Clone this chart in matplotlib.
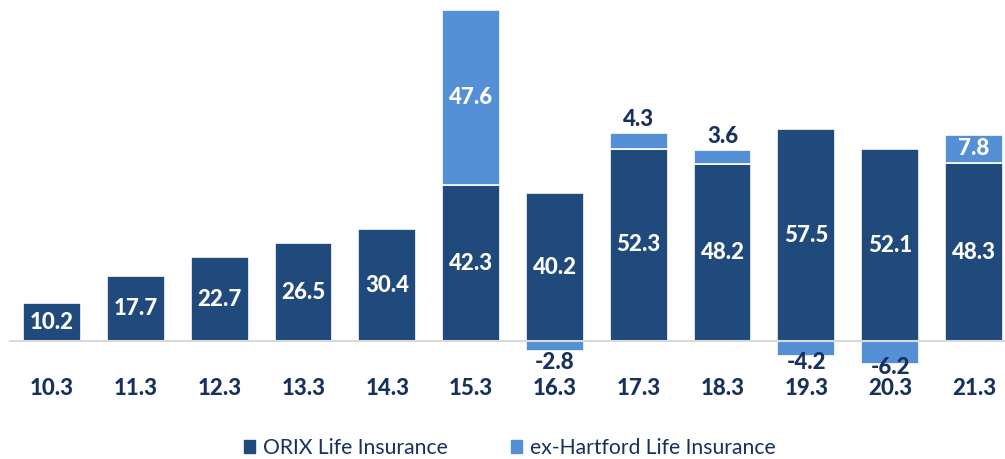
import numpy as np
import matplotlib.pyplot as plt
from matplotlib.patches import Patch

# fiscal year-end labels and values (billion yen)
periods = ["10.3", "11.3", "12.3", "13.3", "14.3", "15.3",
           "16.3", "17.3", "18.3", "19.3", "20.3", "21.3"]
orix_life = [10.2, 17.7, 22.7, 26.5, 30.4, 42.3, 40.2, 52.3, 48.2, 57.5, 52.1, 48.3]
ex_hartford = [0, 0, 0, 0, 0, 47.6, -2.8, 4.3, 3.6, -4.2, -6.2, 7.8]

dark = "#214A7C"
light = "#5590D6"
navy = "#17305E"

plt.rcParams["font.family"] = ["Lato", "DejaVu Sans"]
BOLD = "black"

fig = plt.figure(figsize=(10.05, 4.59), dpi=100)
ax = fig.add_axes([0, 0, 1, 1])

x = np.arange(len(periods))
w = 0.69

ax.bar(x, orix_life, w, color=dark, edgecolor="white", linewidth=1.2, zorder=2)
for i, v in enumerate(ex_hartford):
    if v == 0:
        continue
    bottom = orix_life[i] if v > 0 else 0
    ax.bar(x[i], v, w, bottom=bottom, color=light, edgecolor="white",
           linewidth=1.2, zorder=2)

# zero line
ax.axhline(0, xmin=10 / 1005, xmax=1, color="#D9D9D9", linewidth=1.5, zorder=3)

# value labels
for i, v in enumerate(orix_life):
    ax.text(x[i], v / 2, f"{v:.1f}", ha="center", va="center",
            color="white", fontsize=16, fontweight=BOLD, zorder=4)

for i, v in enumerate(ex_hartford):
    if v == 0:
        continue
    if v > 6:
        ax.text(x[i], orix_life[i] + v / 2, f"{v:.1f}", ha="center", va="center",
                color="white", fontsize=16, fontweight=BOLD, zorder=4)
    elif v > 0:
        ax.text(x[i], orix_life[i] + v + 0.8, f"{v:.1f}", ha="center", va="bottom",
                color=navy, fontsize=16, fontweight=BOLD, zorder=4)
    else:
        ax.text(x[i], min(v - 1.0, -5.8), f"{v:.1f}", ha="center", va="center",
                color=navy, fontsize=16, fontweight=BOLD, zorder=4)

# category labels
for i, p in enumerate(periods):
    ax.text(x[i], -13.0, p, ha="center", va="center", color=navy,
            fontsize=16, fontweight=BOLD)

ax.set_xlim(-0.62, 11.37)
ax.set_ylim(-32.1, 92.7)
ax.axis("off")

handles = [Patch(color=dark, label="ORIX Life Insurance"),
           Patch(color=light, label="ex-Hartford Life Insurance")]
leg = fig.legend(handles=handles, loc="center", bbox_to_anchor=(510 / 1005, 1 - 448 / 459),
                 ncol=2, frameon=False, fontsize=15.2, handlelength=0.5, handleheight=0.5,
                 handletextpad=0.4, columnspacing=3.0)
for t in leg.get_texts():
    t.set_color(navy)

fig.savefig("out.png", dpi=100)
